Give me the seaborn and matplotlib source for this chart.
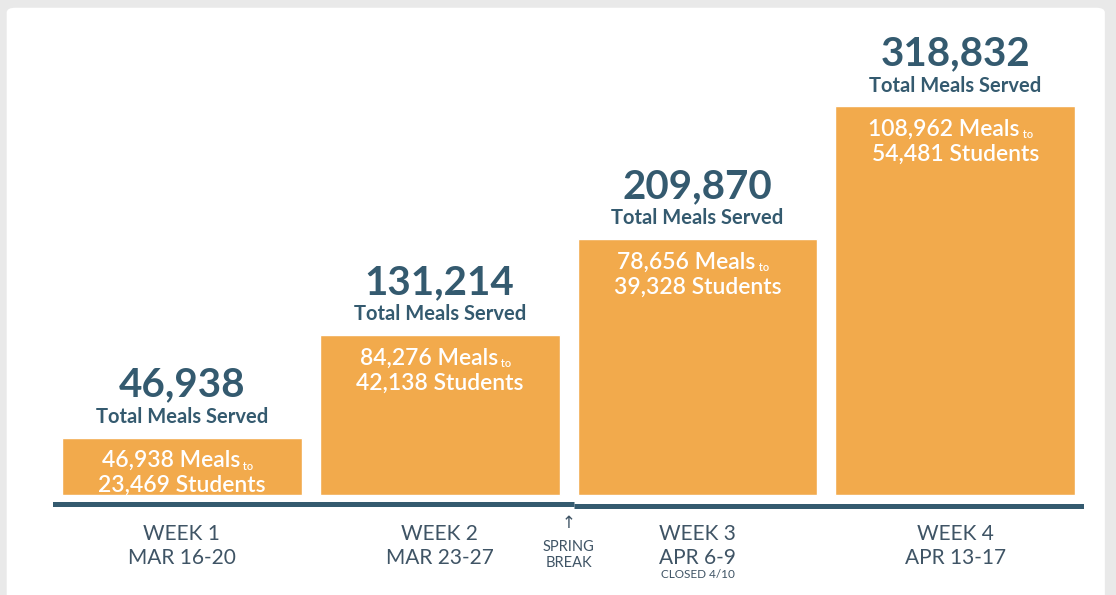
import numpy as np
import matplotlib
matplotlib.use("Agg")
import matplotlib.pyplot as plt
import seaborn as sns
from matplotlib.patches import FancyBboxPatch

# data
weeks = ["WEEK 1\nMAR 16-20", "WEEK 2\nMAR 23-27", "WEEK 3\nAPR 6-9", "WEEK 4\nAPR 13-17"]
total_meals = [46938, 131214, 209870, 318832]
meals = [46938, 84276, 78656, 108962]
students = [23469, 42138, 39328, 54481]

orange = "#f2aa4c"
navy = "#345a6f"
grey_txt = "#3f5465"

sns.set_theme(style="white")
plt.rcParams["font.family"] = ["Lato", "DejaVu Sans"]

fig = plt.figure(figsize=(11.16, 5.95), dpi=100)
fig.patch.set_facecolor("#e9e9e9")
# white card behind everything
card = FancyBboxPatch((0.006, -0.05), 0.984, 1.037, boxstyle="round,pad=0,rounding_size=0.008",
                      transform=fig.transFigure, facecolor="white", edgecolor="none", zorder=-5)
fig.patches.append(card)

ax = fig.add_axes([0.0475, 0.127, 0.924, 0.840])
ax.set_facecolor("none")
ax.set_zorder(2)

sns.barplot(x=weeks, y=total_meals, color=orange, saturation=1, width=0.93, ax=ax, zorder=2)

ax.set_ylim(-20000, 390000)
ax.set_xlim(-0.5, 3.5)
ax.set_yticks([])
ax.set_ylabel("")
sns.despine(ax=ax, left=True, bottom=True)
ax.tick_params(axis="x", length=0, pad=3, labelsize=15, labelcolor=grey_txt)
for lbl in ax.get_xticklabels():
    lbl.set_linespacing(1.3)

# baseline (stepped after spring break)
ax.hlines(-7000, -0.52, 1.52, color=navy, lw=3.6, zorder=1)
ax.hlines(-8800, 1.52, 3.52, color=navy, lw=3.6, zorder=1)

for i, (t, m, s) in enumerate(zip(total_meals, meals, students)):
    ax.annotate(f"{t:,}", (i, t), xytext=(0, 38), textcoords="offset points",
                ha="center", va="center", fontsize=29, fontweight="bold", color=navy)
    ax.annotate("Total Meals Served", (i, t), xytext=(0, 15), textcoords="offset points",
                ha="center", va="center", fontsize=14.5, fontweight="bold", color=navy)
    line1 = ax.annotate(f"{m:,} Meals", (i, t), xytext=(-8, -16.5), textcoords="offset points",
                        ha="center", va="center", fontsize=16.5, fontweight="semibold",
                        color="white")
    ax.annotate(" to", xy=(1, 0.25), xycoords=line1, ha="left", va="center",
                fontsize=8, fontweight="semibold", color="white")
    ax.annotate(f"{s:,} Students", (i, t), xytext=(0, -34.5), textcoords="offset points",
                ha="center", va="center", fontsize=16.5, fontweight="semibold", color="white")

# week 3 note
ax.annotate("CLOSED 4/10", (2, 0), xycoords=("data", "axes fraction"), xytext=(0, -40),
            textcoords="offset points", ha="center", va="center", fontsize=8.5, color=grey_txt)

# spring break marker
ax.annotate("\u2191", (1.5, 0), xycoords=("data", "axes fraction"), xytext=(0, 4),
            textcoords="offset points", ha="center", va="top", fontsize=12, color=grey_txt,
            family=["DejaVu Sans"])
ax.annotate("SPRING\nBREAK", (1.5, 0), xycoords=("data", "axes fraction"), xytext=(0, -15),
            textcoords="offset points", ha="center", va="top", fontsize=10.5, color=grey_txt,
            linespacing=1.2)

fig.savefig("out.png", dpi=100, facecolor=fig.get_facecolor())
